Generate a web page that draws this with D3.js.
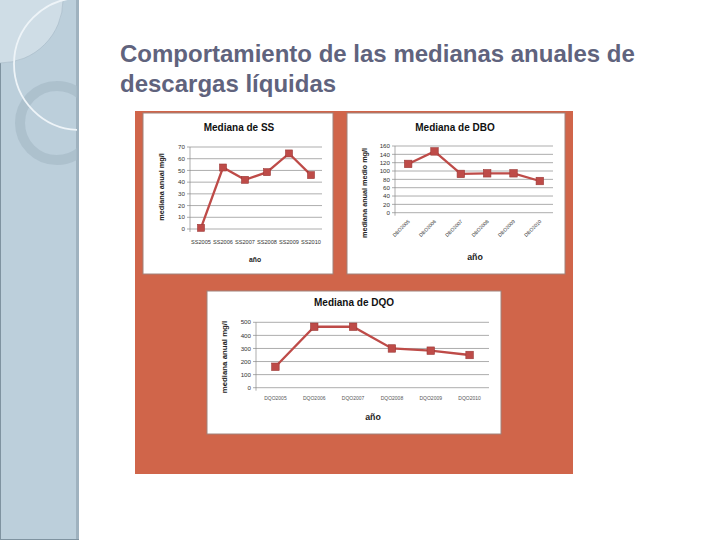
<!DOCTYPE html>
<meta charset="utf-8">
<script src="https://d3js.org/d3.v7.min.js"></script>
<style>
  body { margin: 0; background: #fff; }
  svg { display: block; }
</style>
<div id="slide"></div>
<script>

// data
const ssLabels  = ["SS2005", "SS2006", "SS2007", "SS2008", "SS2009", "SS2010"];
const ssValues  = [1, 52.5, 42, 48.5, 64.5, 46];
const ssTicks   = [0, 10, 20, 30, 40, 50, 60, 70];

const dboLabels = ["DBO2005", "DBO2006", "DBO2007", "DBO2008", "DBO2009", "DBO2010"];
const dboValues = [117, 147, 93, 94.5, 94.5, 76];
const dboTicks  = [0, 20, 40, 60, 80, 100, 120, 140, 160];

const dqoLabels = ["DQO2005", "DQO2006", "DQO2007", "DQO2008", "DQO2009", "DQO2010"];
const dqoValues = [160, 466, 466, 300, 283, 250];
const dqoTicks  = [0, 100, 200, 300, 400, 500];

const W = 720, H = 540;
const svg = d3.select("#slide").append("svg")
    .attr("width", W).attr("height", H);

// left decorative stripe
const defs = svg.append("defs");
defs.append("clipPath").attr("id", "stripeClip")
    .append("rect").attr("x", 0).attr("y", 0).attr("width", 77).attr("height", H);

const stripe = svg.append("g");
stripe.append("rect").attr("x", 0).attr("y", 0).attr("width", 79).attr("height", H)
    .attr("fill", "#bccfdb");
stripe.append("rect").attr("x", 76).attr("y", 0).attr("width", 3).attr("height", H)
    .attr("fill", "#9fb2bf");
stripe.append("rect").attr("x", 0).attr("y", 0).attr("width", 1).attr("height", H)
    .attr("fill", "#7f93a0");
stripe.append("rect").attr("x", 0).attr("y", H - 1).attr("width", 79).attr("height", 1)
    .attr("fill", "#7f93a0");

const deco = stripe.append("g").attr("clip-path", "url(#stripeClip)");
deco.append("circle").attr("cx", 0).attr("cy", 0).attr("r", 63)
    .attr("fill", "#cfdde6").attr("stroke", "#a6b9c6").attr("stroke-width", 0.6);
deco.append("circle").attr("cx", 57).attr("cy", 123).attr("r", 37)
    .attr("fill", "none").attr("stroke", "#a7bac8").attr("stroke-opacity", 0.7)
    .attr("stroke-width", 10);
deco.append("circle").attr("cx", 80).attr("cy", 64).attr("r", 66)
    .attr("fill", "none").attr("stroke", "#eef4f8").attr("stroke-width", 1.8);

// title
const title = svg.append("text")
    .style("font-family", "'Liberation Sans', Arial, sans-serif")
    .style("font-size", "24px")
    .style("font-weight", "bold")
    .attr("fill", "#60637d");
title.append("tspan").attr("x", 120).attr("y", 62)
    .text("Comportamiento de las medianas anuales de");
title.append("tspan").attr("x", 120).attr("y", 92)
    .text("descargas líquidas");

// orange panel
svg.append("rect").attr("x", 135).attr("y", 111).attr("width", 438).attr("height", 363)
    .attr("fill", "#d0654a");

const lineColor = "#be4b48";
const font = "'Liberation Sans', Arial, sans-serif";

function drawChart(cfg) {
    const g = svg.append("g");

    // white box
    g.append("rect")
        .attr("x", cfg.box[0]).attr("y", cfg.box[1])
        .attr("width", cfg.box[2]).attr("height", cfg.box[3])
        .attr("fill", "#fff").attr("stroke", "#a0827a").attr("stroke-width", 1);

    let x = d3.scaleBand()
        .domain(cfg.labels)
        .range([cfg.plot[0], cfg.plot[2]]);
    let y = d3.scaleLinear()
        .domain([0, d3.max(cfg.ticks)])
        .range([cfg.plot[3], cfg.plot[1]]);

    // gridlines
    g.append("g").selectAll("line")
        .data(cfg.ticks)
        .enter().append("line")
        .attr("x1", cfg.plot[0] - 3).attr("x2", cfg.plot[2])
        .attr("y1", d => y(d)).attr("y2", d => y(d))
        .attr("stroke", "#8a8a8a").attr("stroke-width", 0.7);

    // y axis line
    g.append("line")
        .attr("x1", cfg.plot[0]).attr("x2", cfg.plot[0])
        .attr("y1", cfg.plot[1]).attr("y2", cfg.plot[3] + 3)
        .attr("stroke", "#8a8a8a").attr("stroke-width", 0.7);

    // y tick labels
    g.append("g").selectAll("text")
        .data(cfg.ticks)
        .enter().append("text")
        .attr("x", cfg.plot[0] - 5)
        .attr("y", d => y(d))
        .attr("dy", "0.35em")
        .attr("text-anchor", "end")
        .style("font-family", font)
        .style("font-size", cfg.tickSize + "px")
        .attr("fill", "#333")
        .text(d => d);

    // x tick labels
    const xl = g.append("g").selectAll("text")
        .data(cfg.labels)
        .enter().append("text")
        .style("font-family", font)
        .style("font-size", cfg.xTickSize + "px")
        .attr("fill", cfg.xTickColor)
        .text(d => d);
    if (cfg.rotate) {
        xl.attr("text-anchor", "end")
          .attr("transform", d => "translate(" + (x(d) + x.bandwidth() / 2 + 2) + "," + (cfg.plot[3] + 9) + ") rotate(-45)");
    } else {
        xl.attr("text-anchor", "middle")
          .attr("x", d => x(d) + x.bandwidth() / 2)
          .attr("y", cfg.plot[3] + cfg.xTickGap);
    }

    // line + markers
    const pts = cfg.labels.map((l, i) => [x(l) + x.bandwidth() / 2, y(cfg.values[i])]);
    g.append("path")
        .datum(pts)
        .attr("d", d3.line())
        .attr("fill", "none")
        .attr("stroke", lineColor)
        .attr("stroke-width", 2.3);
    g.append("g").selectAll("rect")
        .data(pts)
        .enter().append("rect")
        .attr("x", d => d[0] - cfg.marker / 2)
        .attr("y", d => d[1] - cfg.marker / 2)
        .attr("width", cfg.marker).attr("height", cfg.marker)
        .attr("fill", lineColor)
        .attr("stroke", "#9b3a37").attr("stroke-width", 0.6);

    // titles
    g.append("text")
        .attr("x", cfg.titlePos[0]).attr("y", cfg.titlePos[1])
        .attr("text-anchor", "middle")
        .style("font-family", font).style("font-weight", "bold")
        .style("font-size", cfg.titleSize + "px")
        .attr("fill", "#111")
        .text(cfg.title);
    g.append("text")
        .attr("x", cfg.xTitlePos[0]).attr("y", cfg.xTitlePos[1])
        .attr("text-anchor", "middle")
        .style("font-family", font).style("font-weight", "bold")
        .style("font-size", cfg.xTitleSize + "px")
        .attr("fill", "#222")
        .text("año");
    g.append("text")
        .attr("transform", "translate(" + cfg.yTitlePos[0] + "," + cfg.yTitlePos[1] + ") rotate(-90)")
        .attr("text-anchor", "middle")
        .style("font-family", font).style("font-weight", "bold")
        .style("font-size", cfg.yTitleSize + "px")
        .attr("fill", "#222")
        .text(cfg.yTitle);
}

drawChart({
    box: [143, 113, 190, 161],
    plot: [190, 147, 322, 229],
    labels: ssLabels, values: ssValues, ticks: ssTicks,
    tickSize: 6.2, xTickSize: 5.6, xTickColor: "#333", xTickGap: 15, rotate: false,
    marker: 7,
    title: "Mediana de SS", titlePos: [239, 131], titleSize: 10,
    xTitlePos: [255, 262], xTitleSize: 6.8,
    yTitle: "mediana anual mg/l", yTitlePos: [164, 187], yTitleSize: 7.3
});

drawChart({
    box: [347, 113, 218, 161],
    plot: [395, 146, 553, 212.7],
    labels: dboLabels, values: dboValues, ticks: dboTicks,
    tickSize: 6.2, xTickSize: 5, xTickColor: "#333", xTickGap: 0, rotate: true,
    marker: 7.5,
    title: "Mediana de DBO", titlePos: [455, 131], titleSize: 10,
    xTitlePos: [475, 260], xTitleSize: 8.8,
    yTitle: "mediana anual medio mg/l", yTitlePos: [367, 193], yTitleSize: 7.2
});

drawChart({
    box: [207, 291, 294, 143],
    plot: [256, 322.3, 489, 387.7],
    labels: dqoLabels, values: dqoValues, ticks: dqoTicks,
    tickSize: 6.2, xTickSize: 5, xTickColor: "#555", xTickGap: 12, rotate: false,
    marker: 7.5,
    title: "Mediana de DQO", titlePos: [354, 306], titleSize: 10,
    xTitlePos: [373, 420], xTitleSize: 8.8,
    yTitle: "mediana anual mg/l", yTitlePos: [227, 357], yTitleSize: 7.8
});

</script>
